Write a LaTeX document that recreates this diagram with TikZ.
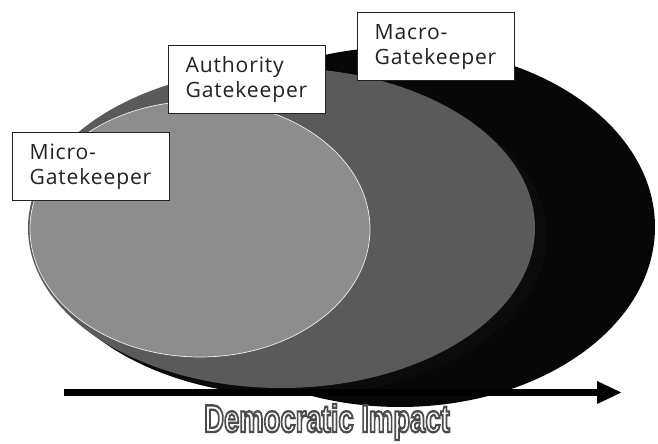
\documentclass[tikz,border=0pt]{standalone}
\usepackage{fontspec}
\usepackage{xcolor}
\usepackage{graphicx}
\usepackage{tikz}
\usetikzlibrary{positioning,arrows.meta}
\newfontfamily\labelfont[LetterSpace=4]{Open Sans}
\newfontfamily\impactfont{Liberation Sans}
\definecolor{macro}{HTML}{070707}
\definecolor{authority}{HTML}{5A5A5A}
\definecolor{micro}{HTML}{8D8D8D}
\definecolor{rimdark}{HTML}{0B0B0B}
\definecolor{ink}{HTML}{222222}
\tikzset{
  gatebox/.style={draw=ink,line width=1.2pt,fill=white,anchor=north west,
    minimum width=4.71cm,minimum height=2.04cm,inner xsep=0.51cm,
    text width=3.69cm,align=left,text=ink,
    font=\labelfont\fontsize{18}{21.5}\selectfont}
}
% hollow letters: fill white, stroke grey
\newcommand\hollow[1]{\special{pdf:literal 2 Tr 2 w 0.3 0.3 0.3 RG 1 1 1 rg}#1\special{pdf:literal 0 Tr 0 g 0 G}}

\begin{document}
\begin{tikzpicture}[x=0.03cm,y=0.03cm]
  \useasboundingbox (0,0) rectangle (658,444);
  % nested gatekeeper fields
  \fill[macro] (400,217) ellipse [x radius=255,y radius=180];
  \fill[rimdark] (293,208) ellipse [x radius=253.5,y radius=160];
  \fill[authority] (281.5,216) ellipse [x radius=253.5,y radius=160];
  \filldraw[micro,draw=white!85!micro,line width=0.6pt] (200,215) ellipse [x radius=170,y radius=128];
  % impact axis
  \coordinate (impact start) at (64,51.5);
  \coordinate (impact end) at (622,51.5);
  \draw[line width=0.21cm,-{Triangle[length=0.75cm,width=0.63cm]}] (impact start) -- (impact end);
  \node[font=\impactfont\bfseries\fontsize{33}{36}\selectfont] (impact) at (327,22)
    {\scalebox{0.71}[1]{\hollow{Democratic Impact}}};
  % labels
  \node[gatebox] (micro) at (12,312) {Micro-\\Gatekeeper};
  \node[gatebox] (authority) at (168,399) {Authority\\Gatekeeper};
  \node[gatebox] (macro) at (357,432) {Macro-\\Gatekeeper};
\end{tikzpicture}
\end{document}
